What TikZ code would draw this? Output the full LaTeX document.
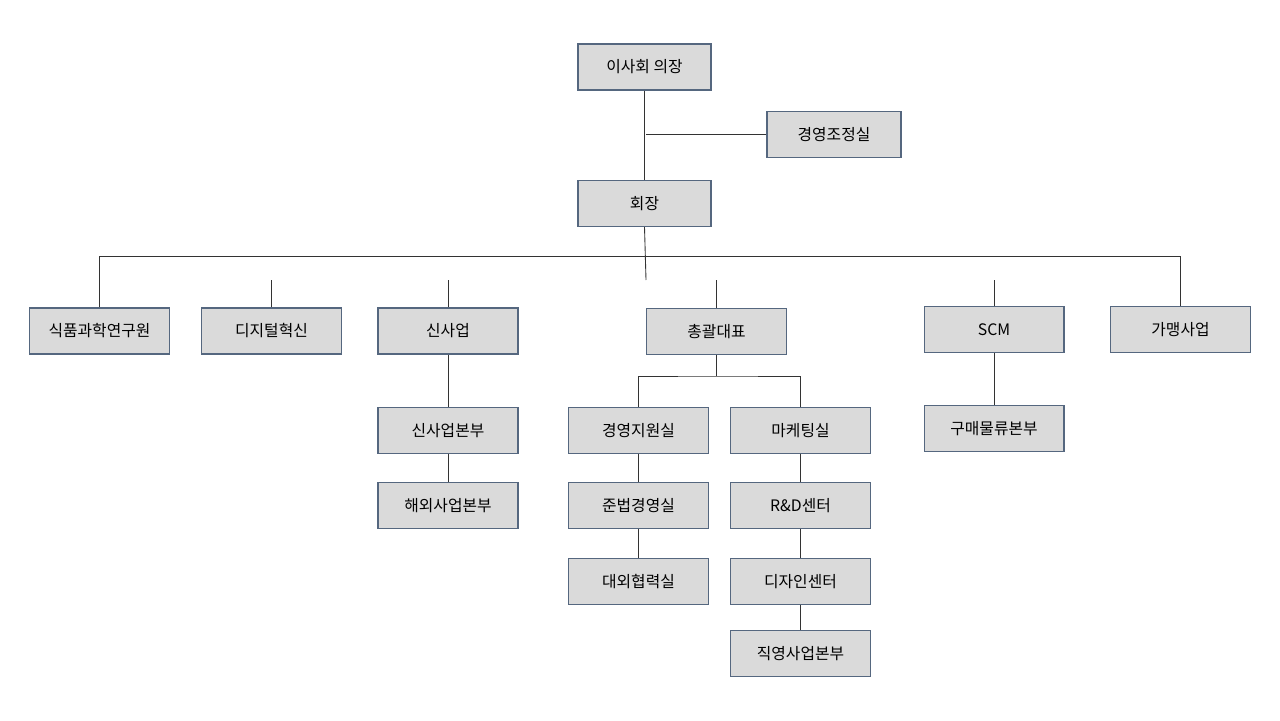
\documentclass[tikz,border=0pt]{standalone}
\usepackage{fontspec}
\setmainfont{Noto Sans CJK KR}
\usepackage{tikz}
\usetikzlibrary{calc}
\definecolor{boxfill}{HTML}{DADADA}
\definecolor{boxline}{HTML}{55677F}
\definecolor{wire}{HTML}{333333}

\begin{document}
\begin{tikzpicture}[x=0.02cm, y=-0.02cm,
  unit/.style={draw=boxline, fill=boxfill, line width=0.6pt, minimum width=2.8cm, minimum height=0.92cm, font=\fontsize{9}{11}\selectfont, inner sep=0pt},
  link/.style={draw=wire, line width=0.5pt}]
% canvas
\useasboundingbox (0,0) rectangle (1280,720);

% top
\node[unit, minimum width=2.66cm] (chair) at (644.5,67) {이사회 의장};
\node[unit, minimum width=2.68cm] (mgmt) at (834,134.5) {경영조정실};
\node[unit, minimum width=2.66cm] (ceo) at (644.5,203.5) {회장};

% divisions
\node[unit] (food) at (99.5,331) {식품과학연구원};
\node[unit] (digital) at (271.5,331) {디지털혁신};
\node[unit] (newbiz) at (448,331) {신사업};
\node[unit] (gen) at (716.5,331.5) {총괄대표};
\node[unit] (scm) at (994,329.5) {SCM};
\node[unit] (franchise) at (1180.5,329.5) {가맹사업};

% sub units
\node[unit] (newhq) at (448,430.5) {신사업본부};
\node[unit] (overseas) at (448,505.5) {해외사업본부};
\node[unit] (support) at (638.5,430.5) {경영지원실};
\node[unit] (compliance) at (638.5,505.5) {준법경영실};
\node[unit] (external) at (638.5,581.5) {대외협력실};
\node[unit] (marketing) at (800.5,430.5) {마케팅실};
\node[unit] (rnd) at (800.5,505.5) {R\&D센터};
\node[unit] (design) at (800.5,581.5) {디자인센터};
\node[unit] (direct) at (800.5,653.5) {직영사업본부};
\node[unit] (purchase) at (994,428.5) {구매물류본부};

% connectors
\coordinate (hub) at (646,134.5);
\draw[link] (chair.south) -- (ceo.north);
\draw[link] (hub) -- (mgmt.west);
\coordinate (bus) at (646,280);
\draw[link] (ceo.south) -- (bus);
\draw[link] (food.north) -- ++(0,-51) -| (franchise.north);
\foreach \n in {digital, newbiz, gen}
  \draw[link] (\n.north) -- (\n.north |- bus);
\draw[link] (scm.north) -- (scm.north |- bus);
\coordinate (split) at (716.5,376);
\draw[link] (gen.south) -- (split);
\draw[link] (support.north) |- (split) -| (marketing.north);
\draw[link] (newbiz.south) -- (newhq.north);
\draw[link] (newhq.south) -- (overseas.north);
\draw[link] (support.south) -- (compliance.north);
\draw[link] (compliance.south) -- (external.north);
\draw[link] (marketing.south) -- (rnd.north);
\draw[link] (rnd.south) -- (design.north);
\draw[link] (design.south) -- (direct.north);
\draw[link] (scm.south) -- (purchase.north);
\end{tikzpicture}
\end{document}
